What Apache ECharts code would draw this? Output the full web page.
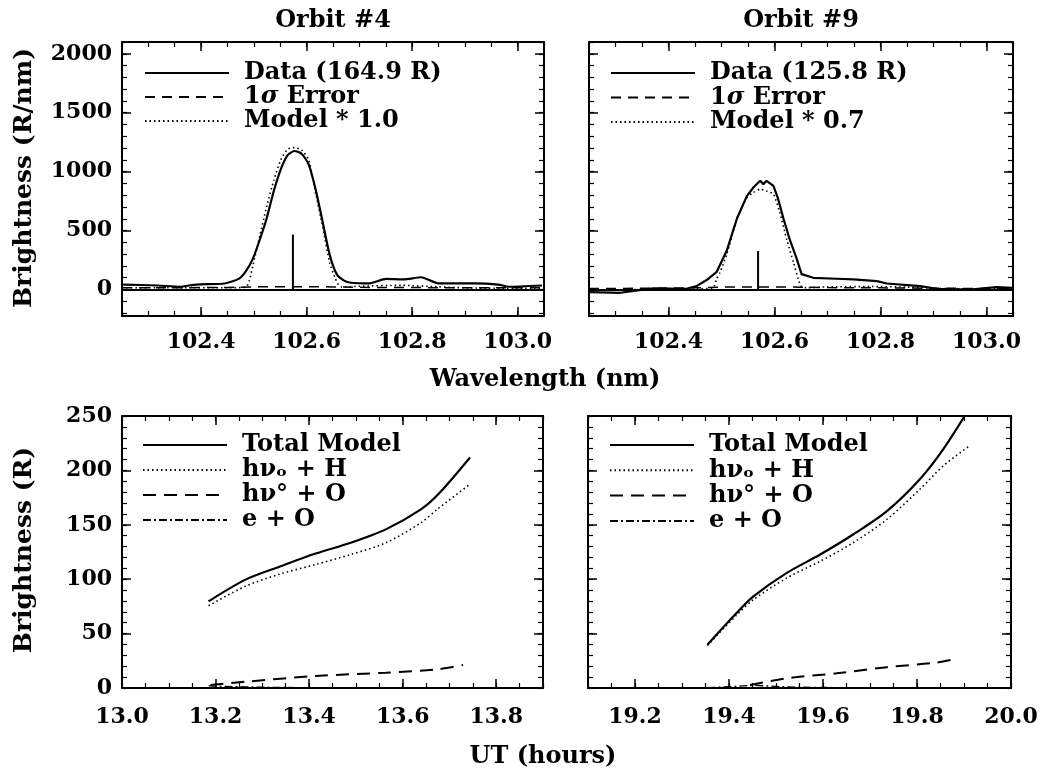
<!DOCTYPE html>
<html><head><meta charset="utf-8">
<script src="https://cdn.jsdelivr.net/npm/echarts@6/dist/echarts.min.js"></script>
<style>html,body{margin:0;padding:0;background:#fff}#c{width:1043px;height:772px}</style>
</head><body><div id="c"></div>
<script>
// ---------- tick labels ----------
const specTicksX = [102.4, 102.6, 102.8, 103.0];
const specTicksY = [0, 500, 1000, 1500, 2000];
const orbit4TicksX = [13.0, 13.2, 13.4, 13.6, 13.8];
const orbit9TicksX = [19.2, 19.4, 19.6, 19.8, 20.0];
const modelTicksY = [0, 50, 100, 150, 200, 250];

// ---------- Orbit #4 spectrum ----------
const o4DataWave = [102.252, 102.318, 102.358, 102.391, 102.445, 102.471, 102.484, 102.498, 102.511, 102.524, 102.538, 102.551, 102.564, 102.577, 102.591, 102.604, 102.617, 102.631, 102.644, 102.657, 102.671, 102.684, 102.717, 102.751, 102.784, 102.817, 102.850, 102.917, 102.963, 102.983, 103.046];
const o4Data     = [42, 34, 23, 42, 51, 90, 150, 260, 420, 600, 840, 1020, 1140, 1175, 1150, 1060, 850, 560, 290, 130, 75, 57, 51, 90, 85, 104, 51, 51, 42, 23, 34];
const o4ErrWave  = [102.25, 102.35, 102.45, 102.50, 102.55, 102.60, 102.65, 102.70, 102.80, 102.90, 103.05];
const o4Err      = [15, 15, 17, 22, 24, 24, 22, 18, 16, 15, 14];
const o4ModelWave = [102.25, 102.35, 102.45, 102.485, 102.491, 102.498, 102.511, 102.524, 102.538, 102.551, 102.564, 102.577, 102.591, 102.604, 102.617, 102.631, 102.644, 102.654, 102.660, 102.667, 102.70, 102.78, 102.85, 102.92, 103.05];
const o4Model     = [15, 15, 15, 20, 70, 200, 450, 700, 930, 1100, 1190, 1205, 1180, 1100, 820, 520, 220, 99, 42, 20, 28, 35, 22, 12, 10];
const o4SpikeWave = [102.574, 102.574];
const o4Spike     = [0, 466];

// ---------- Orbit #9 spectrum ----------
const o9DataWave = [102.252, 102.309, 102.371, 102.434, 102.453, 102.472, 102.491, 102.51, 102.529, 102.548, 102.56, 102.573, 102.579, 102.585, 102.598, 102.607, 102.617, 102.629, 102.642, 102.651, 102.673, 102.717, 102.749, 102.793, 102.812, 102.875, 102.906, 102.969, 103.019, 103.048];
const o9Data     = [-23, -28, 10, 6, 28, 80, 150, 330, 600, 794, 865, 922, 894, 922, 880, 766, 600, 420, 260, 130, 99, 91, 85, 71, 51, 28, 6, 0, 20, 14];
const o9ErrWave  = [102.25, 102.35, 102.45, 102.50, 102.55, 102.60, 102.65, 102.70, 102.80, 102.90, 103.05];
const o9Err      = [8, 10, 14, 20, 22, 22, 20, 16, 14, 10, 8];
const o9ModelWave = [102.25, 102.35, 102.45, 102.484, 102.491, 102.497, 102.51, 102.529, 102.548, 102.56, 102.573, 102.585, 102.598, 102.61, 102.623, 102.636, 102.645, 102.651, 102.66, 102.70, 102.78, 102.85, 102.92, 103.05];
const o9Model     = [-5, 0, 5, 14, 91, 142, 300, 600, 780, 823, 851, 835, 808, 653, 425, 227, 85, 23, 15, 22, 25, 20, 8, 5];
const o9SpikeWave = [102.569, 102.569];
const o9Spike     = [0, 326];

// ---------- Orbit #4 model brightness vs UT ----------
const o4UT    = [13.185, 13.264, 13.339, 13.414, 13.489, 13.564, 13.639, 13.676, 13.744];
const o4Total = [79.6, 99.6, 111.9, 123.6, 133.5, 145.8, 164.2, 178, 211.9];
const o4HH    = [75.6, 93.5, 104.9, 113.5, 122.7, 133.5, 151.9, 165, 187.3];
const o4OUT   = [13.189, 13.264, 13.414, 13.564, 13.676, 13.729];
const o4HO    = [2.8, 5.8, 11, 14.1, 17.2, 21.2];
const o4EO    = [2, 1, 0.5, 0.3, 0.3, 0.3, 0.3, 0.3, 0.3];

// ---------- Orbit #9 model brightness vs UT ----------
const o9UT    = [19.354, 19.416, 19.452, 19.523, 19.594, 19.664, 19.736, 19.806, 19.856, 19.91];
const o9Total = [39.7, 68.9, 84.2, 105.8, 122.7, 141.1, 162.6, 191.9, 219.6, 256];
const o9HH    = [39, 67, 81.2, 101.2, 116.5, 133.5, 155, 182.7, 204.2, 222];
const o9OUT   = [19.445, 19.523, 19.629, 19.736, 19.842, 19.888];
const o9HO    = [2.8, 8.9, 13.5, 19.1, 23.4, 27.4];
const o9EO    = [0.3, 1.5, 2.5, 1, 0.5, 0.3, 0.3, 0.3, 0.3, 0.3];

// ---------- names ----------
const N_DATA4 = 'Data (164.9 R)', N_DATA9 = 'Data (125.8 R)', N_ERR = '1σ Error';
const N_MOD4 = 'Model * 1.0', N_MOD9 = 'Model * 0.7';
const N_TOT = 'Total Model', N_HH = 'hνₒ + H', N_HO = 'hν° + O', N_EO = 'e + O';

const FONT = 'DejaVu Serif';
function pairs(xs, ys) { return xs.map((x, i) => [x, ys[i]]); }
function minorTicks(lo, hi, step) {
  const out = []; const s = Math.ceil(lo / step - 1e-9);
  for (let k = s; k * step <= hi + 1e-9; k++) out.push(+(k * step).toFixed(6));
  return out;
}

const grids = [
  {left: 122, top: 42, width: 422, height: 274},
  {left: 589, top: 42, width: 424, height: 274},
  {left: 122, top: 416, width: 421, height: 272},
  {left: 588, top: 416, width: 423, height: 272}
];

const xAxes = [], yAxes = [];
function addAxes(list, g, lo, hi, major, minorStep, sides, labelSide, fmt, margin) {
  let primary = -1;
  sides.forEach(pos => {
    const showLab = pos === labelSide;
    const idx = list.length;
    if (primary < 0 || showLab) primary = idx;
    list.push({type: 'value', gridIndex: g, min: lo, max: hi, position: pos,
      axisLine: {show: true, onZero: false, lineStyle: {color: '#000', width: 2}},
      axisTick: {show: true, inside: true, length: 9, customValues: major, lineStyle: {color: '#000', width: 1.5}},
      axisLabel: {show: showLab, customValues: major, formatter: fmt, margin: margin, color: '#000',
                  fontFamily: FONT, fontWeight: 'bold', fontSize: 22},
      splitLine: {show: false}});
    list.push({type: 'value', gridIndex: g, min: lo, max: hi, position: pos,
      axisLine: {show: false, onZero: false},
      axisTick: {show: true, inside: true, length: 5, customValues: minorTicks(lo, hi, minorStep), lineStyle: {color: '#000', width: 1.2}},
      axisLabel: {show: false}, splitLine: {show: false}});
  });
  return primary;
}
const f1 = v => v.toFixed(1), f0 = v => String(Math.round(v));
const ax = [
  {x: addAxes(xAxes, 0, 102.25, 103.05, specTicksX, 0.05, ['bottom', 'top'], 'bottom', f1, 15),
   y: addAxes(yAxes, 0, -225, 2100, specTicksY, 100, ['left', 'right'], 'left', f0, 10)},
  {x: addAxes(xAxes, 1, 102.25, 103.05, specTicksX, 0.05, ['bottom', 'top'], 'bottom', f1, 15),
   y: addAxes(yAxes, 1, -225, 2100, specTicksY, 100, ['left', 'right'], 'none', f0, 10)},
  {x: addAxes(xAxes, 2, 13.0, 13.9, orbit4TicksX, 0.05, ['bottom', 'top'], 'bottom', f1, 18),
   y: addAxes(yAxes, 2, 0, 250, modelTicksY, 10, ['left', 'right'], 'left', f0, 10)},
  {x: addAxes(xAxes, 3, 19.1, 20.0, orbit9TicksX, 0.05, ['bottom', 'top'], 'bottom', f1, 18),
   y: addAxes(yAxes, 3, 0, 250, modelTicksY, 10, ['left', 'right'], 'none', f0, 10)}
];

function ser(g, name, xs, ys, lineStyle, extra) {
  return Object.assign({name: name, type: 'line', xAxisIndex: ax[g].x, yAxisIndex: ax[g].y,
    data: pairs(xs, ys), symbol: 'none', showSymbol: false, silent: true, clip: true,
    lineStyle: Object.assign({color: '#000'}, lineStyle), itemStyle: {color: '#000'}}, extra || {});
}
const zeroLine = {markLine: {silent: true, symbol: 'none', label: {show: false}, animation: false,
  lineStyle: {color: '#000', type: 'solid', width: 2}, data: [{yAxis: 0}]}};
const SOLID = {type: 'solid', width: 2.2};
const ERRD = {type: [10, 7], width: 1.5};
const DOT = {type: [1.5, 3], width: 1.6};
const DASH = {type: [13, 8], width: 2};
const DDOT = {type: [8, 3, 2, 3], width: 1.3};

const series = [
  ser(0, N_DATA4, o4DataWave, o4Data, SOLID, Object.assign({smooth: 0.2}, zeroLine)),
  ser(0, N_ERR, o4ErrWave, o4Err, ERRD),
  ser(0, N_MOD4, o4ModelWave, o4Model, DOT, {smooth: 0.2}),
  ser(0, 'spike4', o4SpikeWave, o4Spike, {type: 'solid', width: 2}),
  ser(1, N_DATA9, o9DataWave, o9Data, SOLID, zeroLine),
  ser(1, N_ERR, o9ErrWave, o9Err, ERRD),
  ser(1, N_MOD9, o9ModelWave, o9Model, DOT, {smooth: 0.2}),
  ser(1, 'spike9', o9SpikeWave, o9Spike, {type: 'solid', width: 2}),
  ser(2, N_TOT, o4UT, o4Total, SOLID, {smooth: 0.3}),
  ser(2, N_HH, o4UT, o4HH, DOT, {smooth: 0.3}),
  ser(2, N_HO, o4OUT, o4HO, DASH, {smooth: 0.3}),
  ser(2, N_EO, o4UT, o4EO, DDOT),
  ser(3, N_TOT, o9UT, o9Total, SOLID, {smooth: 0.3}),
  ser(3, N_HH, o9UT, o9HH, DOT, {smooth: 0.3}),
  ser(3, N_HO, o9OUT, o9HO, DASH, {smooth: 0.3}),
  ser(3, N_EO, o9UT, o9EO, DDOT)
];

const LFS = 24;
const legendText = {color: '#000', fontFamily: FONT, fontWeight: 'bold', fontSize: LFS,
  rich: {g: {width: 10}, i: {fontFamily: FONT, fontWeight: 'bold', fontStyle: 'italic', fontSize: LFS, color: '#000'}}};
function legendFmt(name) { return '{g| }' + (name === N_ERR ? '1{i|σ} Error' : name); }
function leg(names, left, top, gap) {
  return {data: names, orient: 'vertical', left: left, top: top, itemWidth: 84, itemHeight: 25,
    itemGap: gap, padding: 0, selectedMode: false, textStyle: legendText, formatter: legendFmt,
    itemStyle: {opacity: 0, color: 'rgba(0,0,0,0)', borderWidth: 0}};
}

function txt(s, x, y, size, rot) {
  return {type: 'text', x: x, y: y, rotation: rot || 0, silent: true,
    style: {text: s, fill: '#000', font: 'bold ' + size + 'px "DejaVu Serif"', align: 'center', verticalAlign: 'middle'}};
}

const option = {
  backgroundColor: '#fff',
  animation: false,
  grid: grids,
  xAxis: xAxes,
  yAxis: yAxes,
  legend: [
    leg([N_DATA4, N_ERR, N_MOD4], 144, 61, 0),
    leg([N_DATA9, N_ERR, N_MOD9], 610, 61, 0.5),
    leg([N_TOT, N_HH, N_HO, N_EO], 142, 433, 1),
    leg([N_TOT, N_HH, N_HO, N_EO], 609, 433, 1.3)
  ],
  series: series,
  graphic: [
    txt('Orbit #4', 333, 21, 24),
    txt('Orbit #9', 801, 21, 24),
    txt('Wavelength (nm)', 545, 380, 24),
    txt('UT (hours)', 543, 757, 24),
    txt('Brightness (R/nm)', 24, 178, 25, Math.PI / 2),
    txt('Brightness (R)', 24, 550, 25, Math.PI / 2)
  ]
};
const chart = echarts.init(document.getElementById('c'), null, {renderer: 'canvas'});
chart.setOption(option);
</script>
</body></html>
